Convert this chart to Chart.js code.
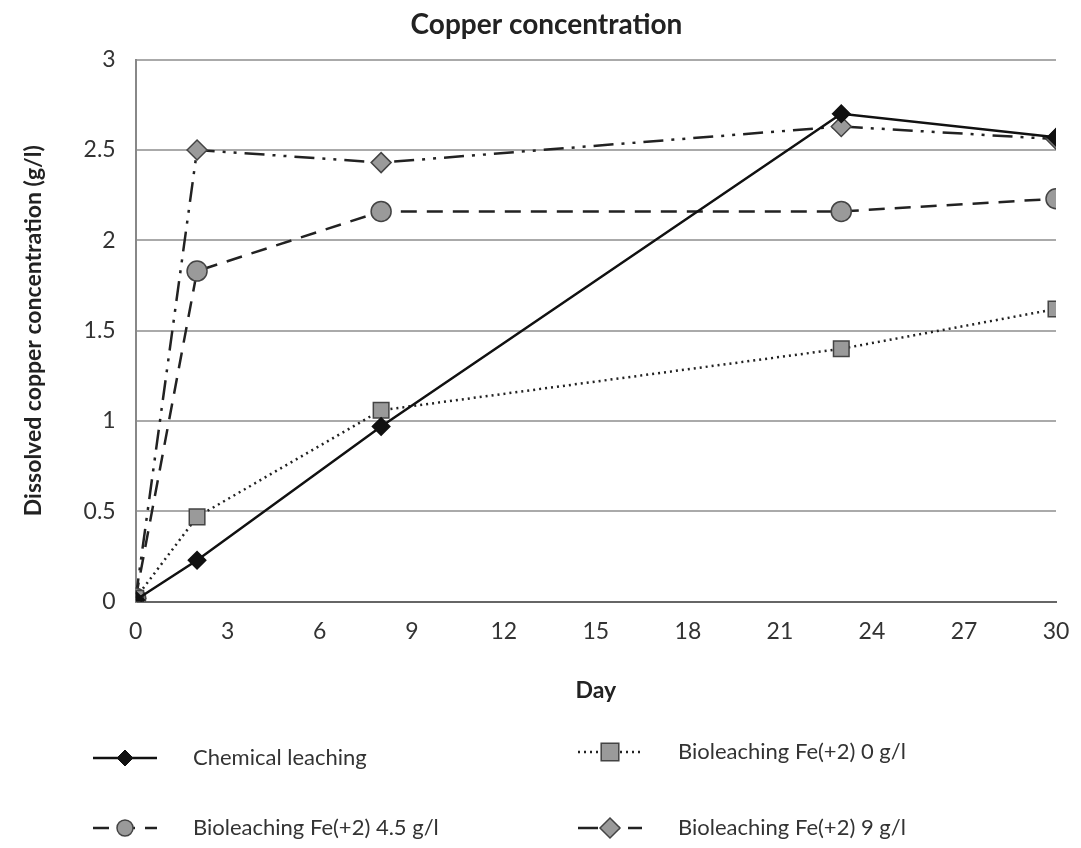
<!DOCTYPE html>
<html>
<head>
<meta charset="utf-8">
<script src="https://cdn.jsdelivr.net/npm/chart.js@4/dist/chart.umd.min.js"></script>
<style>
  body { margin: 0; background: #fff; }
  #wrap { width: 1081px; height: 848px; }
</style>
</head>
<body>
<div id="wrap"><canvas id="copper-chart" width="1081" height="848"></canvas></div>
<script>
// Data
const days = [0, 2, 8, 23, 30];
const chemical = [0.01, 0.23, 0.97, 2.70, 2.57];
const bioFe0 = [0.02, 0.47, 1.06, 1.40, 1.62];
const bioFe45 = [0.02, 1.83, 2.16, 2.16, 2.23];
const bioFe9 = [0.02, 2.50, 2.43, 2.63, 2.56];
const yTicks = [0, 0.5, 1, 1.5, 2, 2.5, 3];

const FONT = "Lato, 'Liberation Sans', sans-serif";

function pts(values) {
  return days.map((d, i) => ({x: d, y: values[i]}));
}

const datasets = [
  {
    label: 'Chemical leaching',
    data: pts(chemical),
    borderColor: '#111',
    borderWidth: 2.5,
    pointStyle: 'rectRot',
    pointRadius: 8,
    pointBackgroundColor: '#111',
    pointBorderColor: '#111',
    order: 1
  },
  {
    label: 'Bioleaching Fe(+2) 0 g/l',
    data: pts(bioFe0),
    borderColor: '#222',
    borderWidth: 2.5,
    borderDash: [2, 4],
    pointStyle: 'rect',
    pointRadius: 11,
    pointBackgroundColor: '#9a9a9a',
    pointBorderColor: '#444',
    pointBorderWidth: 1.5,
    order: 2
  },
  {
    label: 'Bioleaching Fe(+2) 4.5 g/l',
    data: pts(bioFe45),
    borderColor: '#222',
    borderWidth: 2.5,
    borderDash: [16, 10],
    pointStyle: 'circle',
    pointRadius: 10,
    pointBackgroundColor: '#9a9a9a',
    pointBorderColor: '#444',
    pointBorderWidth: 1.5,
    order: 3
  },
  {
    label: 'Bioleaching Fe(+2) 9 g/l',
    data: pts(bioFe9),
    borderColor: '#222',
    borderWidth: 2.5,
    borderDash: [20, 8, 3, 8, 3, 8],
    pointStyle: 'rectRot',
    pointRadius: 10,
    pointBackgroundColor: '#9a9a9a',
    pointBorderColor: '#444',
    pointBorderWidth: 1.5,
    order: 4
  }
];

// draw one legend marker (same shapes as the chart points)
function drawMarker(ctx, ds, x, y) {
  const r = ds.pointRadius;
  ctx.save();
  ctx.setLineDash([]);
  ctx.fillStyle = ds.pointBackgroundColor;
  ctx.strokeStyle = ds.pointBorderColor;
  ctx.lineWidth = ds.pointBorderWidth || 1;
  ctx.beginPath();
  if (ds.pointStyle === 'rectRot') {
    ctx.moveTo(x, y - r); ctx.lineTo(x + r, y); ctx.lineTo(x, y + r); ctx.lineTo(x - r, y); ctx.closePath();
  } else if (ds.pointStyle === 'rect') {
    const s = r * 0.8;
    ctx.rect(x - s, y - s, s * 2, s * 2);
  } else {
    ctx.arc(x, y, r * 0.8, 0, Math.PI * 2);
  }
  ctx.fill();
  ctx.stroke();
  ctx.restore();
}

// Legend at the bottom, two columns like the original
const bottomLegend = {
  id: 'bottomLegend',
  afterDraw(chart) {
    const ctx = chart.ctx;
    const spots = [
      {x: 93, y: 758}, {x: 578, y: 752},
      {x: 93, y: 828}, {x: 578, y: 828}
    ];
    chart.data.datasets.forEach((ds, i) => {
      const s = spots[i];
      ctx.save();
      ctx.strokeStyle = ds.borderColor;
      ctx.lineWidth = ds.borderWidth;
      ctx.setLineDash(ds.borderDash || []);
      ctx.beginPath();
      ctx.moveTo(s.x, s.y);
      ctx.lineTo(s.x + 64, s.y);
      ctx.stroke();
      ctx.restore();
      drawMarker(ctx, ds, s.x + 32, s.y);
      ctx.save();
      ctx.fillStyle = '#333';
      ctx.font = '22px ' + FONT;
      ctx.textBaseline = 'middle';
      ctx.fillText(ds.label, s.x + 100, s.y);
      ctx.restore();
    });
  }
};

const ctx = document.getElementById('copper-chart').getContext('2d');
new Chart(ctx, {
  type: 'line',
  data: { datasets: datasets },
  options: {
    responsive: false,
    animation: false,
    devicePixelRatio: 1,
    layout: { padding: { left: 16, right: 4, top: 4, bottom: 140 } },
    plugins: {
      legend: { display: false },
      tooltip: { enabled: false },
      title: {
        display: true,
        text: 'Copper concentration',
        color: '#222',
        font: { family: FONT, size: 28, weight: 'bold' },
        padding: { top: 4, bottom: 18 }
      }
    },
    scales: {
      x: {
        type: 'linear',
        min: 0,
        max: 30,
        afterFit(scale) { scale.paddingRight = 25; },
        ticks: { stepSize: 3, color: '#333', font: { family: FONT, size: 23 }, padding: 16 },
        grid: { display: false, drawTicks: false },
        border: { color: '#666', width: 2 },
        title: {
          display: true,
          text: 'Day',
          color: '#222',
          font: { family: FONT, size: 23, weight: 'bold' },
          padding: { top: 15 }
        }
      },
      y: {
        min: 0,
        max: 3,
        afterBuildTicks(axis) { axis.ticks = yTicks.map(v => ({value: v})); },
        ticks: {
          color: '#333',
          font: { family: FONT, size: 23 },
          padding: 20,
          callback: v => String(v)
        },
        grid: { color: '#aaa', lineWidth: 2, drawTicks: false },
        border: { color: '#888', width: 2 },
        title: {
          display: true,
          text: 'Dissolved copper concentration (g/l)',
          color: '#222',
          font: { family: FONT, size: 23, weight: 'bold' },
          padding: { bottom: 16 }
        }
      }
    }
  },
  plugins: [bottomLegend]
});
</script>
</body>
</html>
